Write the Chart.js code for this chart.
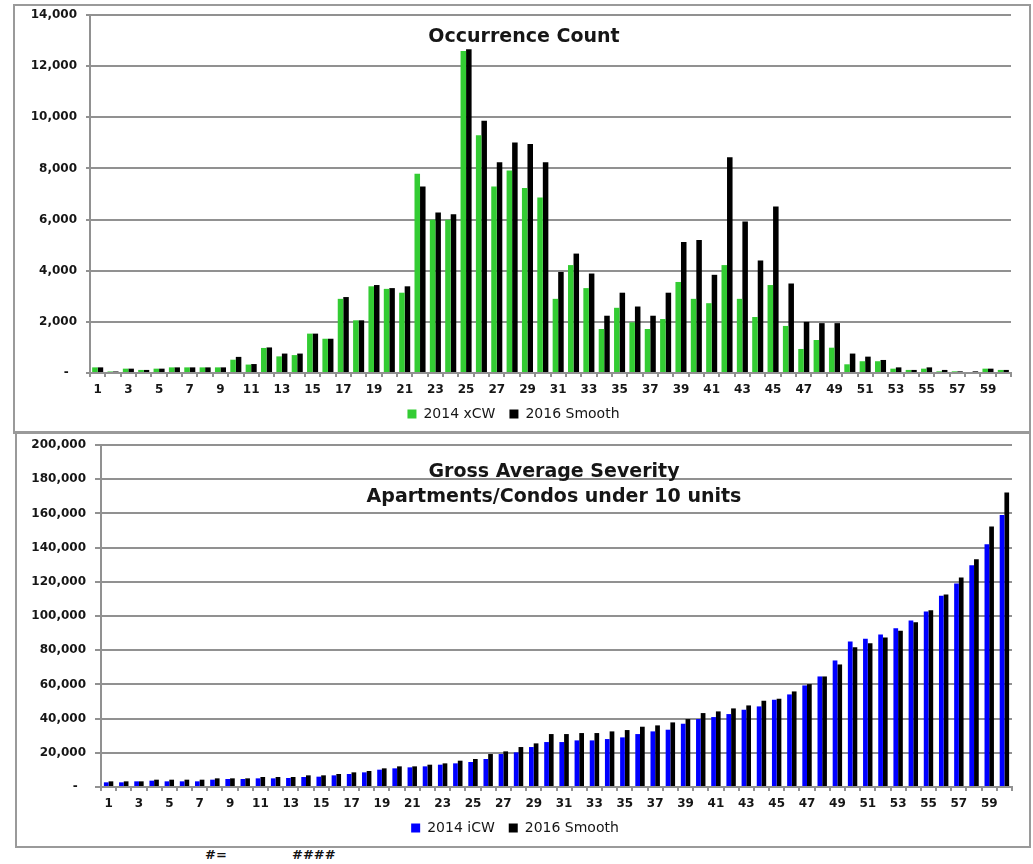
<!DOCTYPE html>
<html>
<head>
<meta charset="utf-8">
<script src="https://cdn.jsdelivr.net/npm/chart.js@4/dist/chart.umd.min.js"></script>
<style>
  html, body { margin: 0; padding: 0; background: #fff; }
  body { width: 1033px; height: 864px; position: relative; overflow: hidden; font-family: "DejaVu Sans", sans-serif; }
  .frame { position: absolute; box-sizing: border-box; border: 2px solid #9a9a9a; }
  canvas { position: absolute; }
  .note { position: absolute; top: 847px; font: bold 13px "DejaVu Sans", sans-serif; color: #111; }
</style>
</head>
<body>
<div class="frame" style="left:13px; top:4px; width:1018px; height:430px;"></div>
<div class="frame" style="left:15px; top:431px; width:1016px; height:417px;"></div>
<canvas id="countChart" width="1012" height="425" style="left:16px; top:6px;"></canvas>
<canvas id="severityChart" width="1010" height="412" style="left:18px; top:433px;"></canvas>
<div class="note" style="left:205px;">#=</div>
<div class="note" style="left:292px;">####</div>
<script>
// Loss-size band numbers shared by both charts
const bands = ['1','2','3','4','5','6','7','8','9','10','11','12','13','14','15','16','17','18','19','20',
  '21','22','23','24','25','26','27','28','29','30','31','32','33','34','35','36','37','38','39','40',
  '41','42','43','44','45','46','47','48','49','50','51','52','53','54','55','56','57','58','59','60'];

// Occurrence counts per band
const count2014xCW = [220,60,170,120,170,220,220,220,220,520,330,980,650,700,1540,1340,2900,2060,3390,3290,
  3140,7790,5990,5990,12590,9300,7290,7920,7230,6860,2900,4220,3320,1720,2550,1980,1720,2110,3560,2900,
  2730,4220,2900,2190,3440,1840,940,1290,990,340,460,460,170,120,170,65,65,40,170,120];
const count2016Smooth = [220,60,170,120,170,220,220,220,220,630,350,1000,760,760,1540,1340,2970,2060,3440,3320,
  3390,7290,6280,6210,12660,9860,8240,9010,8960,8240,3950,4670,3890,2240,3140,2600,2240,3140,5120,5200,
  3840,8440,5920,4400,6510,3500,2000,1950,1950,760,640,510,220,120,220,120,65,65,170,120];

// Gross average severity per band
const severity2014iCW = [2730,2730,3310,3700,3310,3310,3310,4280,4670,4670,5060,5060,5260,5840,6040,6820,7600,8570,10130,10910,
  11490,12070,13050,13830,14610,16360,19280,20250,23370,26290,26290,27260,27260,28040,29020,30960,32520,33500,37000,39730,
  40900,42650,45180,47130,51020,54140,59400,64650,74000,85100,86660,89190,92890,97370,102630,111780,118990,129700,141970,159100];
const severity2016Smooth = [3310,3310,3310,4280,4280,4280,4280,5060,5060,5060,5840,5840,5840,6820,6820,7600,8570,9350,10910,12070,
  12070,13050,13830,15390,16360,19280,20840,23370,25510,30960,30960,31550,31550,32520,33300,35250,36030,37780,39730,43230,
  44210,45960,47710,50440,51610,55890,60180,64650,71670,81790,84130,87440,91330,96400,103410,112560,122490,133200,152290,172150];

const countTitle = ['Occurrence Count'];
const severityTitle = ['Gross Average Severity', 'Apartments/Condos under 10 units'];

const GRID = '#919191';
const TEXT = '#161616';
const tickFont = { family: 'DejaVu Sans', size: 12, weight: 'bold' };

// Title drawn over the plot area, as in the spreadsheet layout
function overlayTitle(lines, cx, cy, gap) {
  return {
    id: 'overlayTitle',
    afterDraw(chart) {
      const ctx = chart.ctx;
      ctx.save();
      ctx.font = 'bold 19px "DejaVu Sans"';
      ctx.fillStyle = TEXT;
      ctx.textAlign = 'center';
      ctx.textBaseline = 'middle';
      lines.forEach((t, i) => ctx.fillText(t, cx, cy + i * gap));
      ctx.restore();
    }
  };
}

function buildOptions(opts) {
  return {
    responsive: false,
    animation: false,
    layout: { padding: { top: opts.top, right: opts.right, bottom: 0, left: 0 } },
    plugins: {
      tooltip: { enabled: false },
      legend: {
        position: 'bottom',
        labels: {
          boxWidth: 9, boxHeight: 9, padding: 14, color: TEXT,
          font: { family: 'DejaVu Sans', size: 14 }
        }
      }
    },
    scales: {
      x: {
        grid: { display: true, drawOnChartArea: false, drawTicks: true, tickLength: 4, color: GRID, lineWidth: 2, offset: true },
        border: { display: true, color: GRID, width: 2 },
        afterFit(scale) { scale.height = 20; },
        ticks: {
          autoSkip: false, maxRotation: 0, padding: 6, color: TEXT, font: tickFont,
          callback(value, index) { return index % 2 === 0 ? this.getLabelForValue(value) : ''; }
        }
      },
      y: {
        min: 0, max: opts.max,
        afterFit(scale) {
          scale.width = opts.axisWidth;
          scale.paddingTop = 0;
          scale.paddingBottom = 0;
        },
        grid: { color: GRID, lineWidth: 2, tickLength: opts.tickLength },
        border: { display: true, color: GRID, width: 2 },
        ticks: {
          stepSize: opts.step, padding: 9, color: TEXT, font: tickFont,
          callback(v) { return v === 0 ? '-  ' : v.toLocaleString('en-US'); }
        }
      }
    }
  };
}

new Chart(document.getElementById('countChart'), {
  type: 'bar',
  data: {
    labels: bands,
    datasets: [
      { label: '2014 xCW', data: count2014xCW, backgroundColor: '#33CC33', barPercentage: 1, categoryPercentage: 0.72 },
      { label: '2016 Smooth', data: count2016Smooth, backgroundColor: '#000000', barPercentage: 1, categoryPercentage: 0.72 }
    ]
  },
  options: buildOptions({ top: 9, right: 17, max: 14000, step: 2000, axisWidth: 74, tickLength: 4 }),
  plugins: [overlayTitle(countTitle, 508, 31, 25)]
});

new Chart(document.getElementById('severityChart'), {
  type: 'bar',
  data: {
    labels: bands,
    datasets: [
      { label: '2014 iCW', data: severity2014iCW, backgroundColor: '#0000FF', barPercentage: 1, categoryPercentage: 0.62 },
      { label: '2016 Smooth', data: severity2016Smooth, backgroundColor: '#000000', barPercentage: 1, categoryPercentage: 0.62 }
    ]
  },
  options: buildOptions({ top: 12, right: 16, max: 200000, step: 20000, axisWidth: 83, tickLength: 6 }),
  plugins: [overlayTitle(severityTitle, 536, 39, 25)]
});
</script>
</body>
</html>
